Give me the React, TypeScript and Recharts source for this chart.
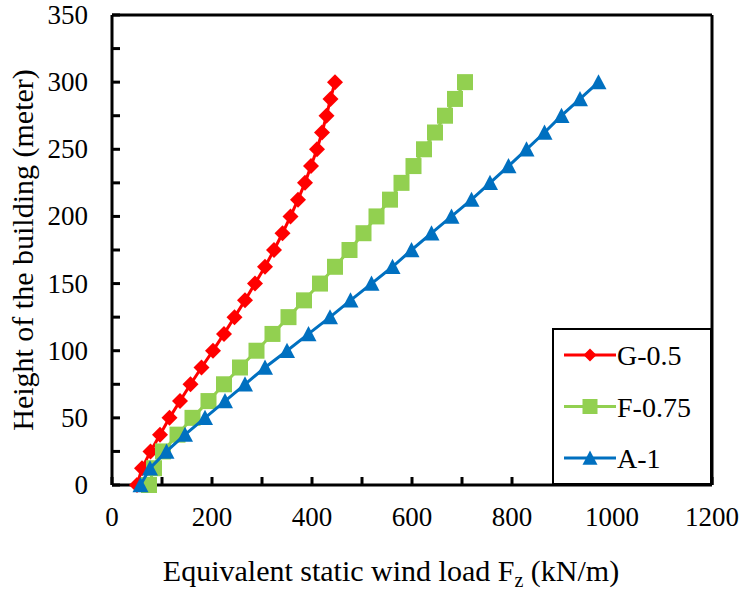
import { Label, Legend, ReferenceLine, Scatter, ScatterChart, XAxis, YAxis } from "recharts";

const heights = [
  0, 12.5, 25, 37.5, 50, 62.5, 75, 87.5, 100, 112.5, 125, 137.5, 150, 162.5,
  175, 187.5, 200, 212.5, 225, 237.5, 250, 262.5, 275, 287.5, 300,
];
const loadG05 = [
  50, 60, 77, 96, 115, 136, 157, 179, 202, 224, 245, 266, 286, 306, 324, 341,
  357, 372, 386, 398, 410, 420, 429, 437, 446,
];
const loadF075 = [
  74, 84, 102, 131, 161, 193, 224, 256, 289, 321, 353, 384, 416, 446, 475, 503,
  529, 556, 579, 603, 624, 646, 666, 686, 706,
];
const loadA1 = [
  57, 76, 109, 146, 186, 226, 266, 306, 350, 393, 436, 477, 519, 561, 599, 639,
  679, 719, 756, 793, 829, 865, 899, 936, 973,
];
const seriesNames = ["G-0.5", "F-0.75", "A-1"];
const xTicks = [0, 100, 200, 300, 400, 500, 600, 700, 800, 900, 1000, 1100, 1200];
const yTicks = [0, 25, 50, 75, 100, 125, 150, 175, 200, 225, 250, 275, 300, 325, 350];

const FONT = "'Liberation Serif', 'Times New Roman', serif";
const TICK_GAP = 10;
const COLORS = ["#FF0000", "#92D050", "#0070C0"];

const textStyle = (size: number) => ({ fontFamily: FONT, fontSize: size, fill: "#000" });

const toPoints = (loads: number[]) => loads.map((x, i) => ({ x, y: heights[i] }));

const Diamond = ({ cx, cy, r = 8, fill }: any) => (
  <polygon points={`${cx},${cy - r} ${cx + r},${cy} ${cx},${cy + r} ${cx - r},${cy}`} fill={fill} />
);
const Square = ({ cx, cy, r = 8, fill }: any) => (
  <rect x={cx - r} y={cy - r} width={r * 2} height={r * 2} fill={fill} />
);
const Triangle = ({ cx, cy, r = 8, fill }: any) => (
  <polygon points={`${cx},${cy - r} ${cx + r},${cy + r * 0.9} ${cx - r},${cy + r * 0.9}`} fill={fill} />
);
const markers = [Diamond, Square, Triangle];

const XTick = ({ x, y, payload }: any) => {
  const axisY = y - TICK_GAP;
  return (
    <g>
      <line x1={x} x2={x} y1={axisY} y2={axisY - 8} stroke="#000" strokeWidth={3} />
      {payload.value % 200 === 0 && (
        <text x={x} y={axisY + 41} textAnchor="middle" style={textStyle(27)}>
          {payload.value}
        </text>
      )}
    </g>
  );
};

const YTick = ({ x, y, payload }: any) => {
  const axisX = x + TICK_GAP;
  return (
    <g>
      <line x1={axisX} x2={axisX + 8} y1={y} y2={y} stroke="#000" strokeWidth={3} />
      {payload.value % 50 === 0 && (
        <text x={axisX - 24} y={y + 9} textAnchor="end" style={textStyle(27)}>
          {payload.value}
        </text>
      )}
    </g>
  );
};

const LegendBox = () => (
  <svg width={156} height={153} style={{ display: "block" }}>
    {seriesNames.map((name, i) => {
      const cy = 25 + i * 51.5;
      const Marker = markers[i];
      return (
        <g key={name}>
          <line x1={10} x2={62} y1={cy} y2={cy} stroke={COLORS[i]} strokeWidth={3} />
          <Marker cx={36} cy={cy} r={i === 0 ? 6.5 : 7.5} fill={COLORS[i]} />
          <text x={63} y={cy + 10} style={textStyle(28)}>
            {name}
          </text>
        </g>
      );
    })}
  </svg>
);

export default function App() {
  const series = [loadG05, loadF075, loadA1];
  return (
    <div style={{ position: "absolute", left: 0, top: 0, fontFamily: FONT }}>
      <ScatterChart
        width={741}
        height={592}
        margin={{ top: 15, right: 29, bottom: 47, left: 52 }}
      >
        <XAxis
          type="number"
          dataKey="x"
          domain={[0, 1200]}
          ticks={xTicks}
          interval={0}
          height={60}
          tickSize={0}
          tickMargin={TICK_GAP}
          tick={<XTick />}
          axisLine={{ stroke: "#000", strokeWidth: 3 }}
        >
          <Label
            content={() => (
              <text x={391} y={581} textAnchor="middle" style={textStyle(30)}>
                Equivalent static wind load F
                <tspan fontSize={20} dy={6}>z</tspan>
                <tspan dy={-6}> (kN/m)</tspan>
              </text>
            )}
          />
        </XAxis>
        <YAxis
          type="number"
          dataKey="y"
          domain={[0, 350]}
          ticks={yTicks}
          interval={0}
          width={60}
          tickSize={0}
          tickMargin={TICK_GAP}
          tick={<YTick />}
          axisLine={{ stroke: "#000", strokeWidth: 3 }}
        >
          <Label
            content={() => (
              <text transform="translate(33,250) rotate(-90)" textAnchor="middle" style={textStyle(30)}>
                Height of the building (meter)
              </text>
            )}
          />
        </YAxis>
        <ReferenceLine y={350} stroke="#000" strokeWidth={3} />
        <ReferenceLine x={1200} stroke="#000" strokeWidth={3} />
        {series.map((loads, i) => {
          const Marker = markers[i];
          return (
            <Scatter
              key={seriesNames[i]}
              name={seriesNames[i]}
              data={toPoints(loads)}
              fill={COLORS[i]}
              line={{ stroke: COLORS[i], strokeWidth: 3 }}
              shape={(p: any) => <Marker cx={p.cx} cy={p.cy} r={8} fill={COLORS[i]} />}
              isAnimationActive={false}
            />
          );
        })}
        <Legend
          layout="vertical"
          align="center"
          verticalAlign="middle"
          content={() => <LegendBox />}
          wrapperStyle={{
            left: 552,
            top: 328,
            width: 160,
            height: 157,
            border: "2px solid #000",
            boxSizing: "border-box",
            background: "#fff",
          }}
        />
      </ScatterChart>
    </div>
  );
}
